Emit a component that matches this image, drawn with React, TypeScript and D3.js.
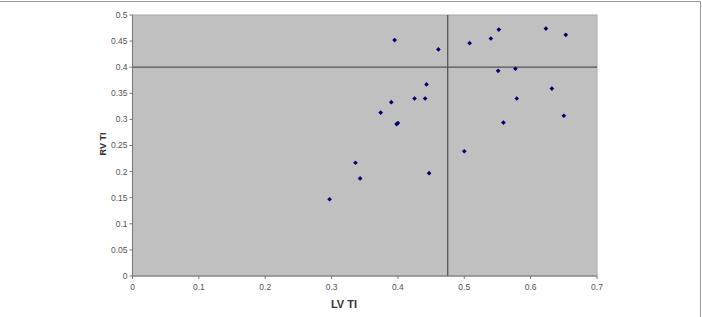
import React from "react";
import * as d3 from "d3";

const lvTI = [0.395, 0.461, 0.508, 0.540, 0.552, 0.551, 0.443, 0.425, 0.441, 0.390, 0.374, 0.398, 0.400, 0.500, 0.623, 0.653, 0.577, 0.632, 0.579, 0.650, 0.559, 0.336, 0.343, 0.447, 0.297];
const rvTI = [0.452, 0.434, 0.446, 0.455, 0.472, 0.393, 0.367, 0.340, 0.340, 0.333, 0.313, 0.291, 0.293, 0.239, 0.474, 0.462, 0.397, 0.359, 0.340, 0.307, 0.294, 0.217, 0.187, 0.197, 0.147];
const xTicks = [0, 0.1, 0.2, 0.3, 0.4, 0.5, 0.6, 0.7];
const yTicks = [0, 0.05, 0.1, 0.15, 0.2, 0.25, 0.3, 0.35, 0.4, 0.45, 0.5];
const refX = 0.475;
const refY = 0.4;

export default function App() {
  const W = 702, H = 317;
  const L = 132.5, R = 597, T = 15, B = 276;
  const x = d3.scaleLinear().domain([0, 0.7]).range([L, R]);
  const y = d3.scaleLinear().domain([0, 0.5]).range([B, T]);
  const font = "'Liberation Sans', Arial, sans-serif";
  const marker = d3.symbol().type(d3.symbolSquare).size(11)();
  return (
    <svg width={W} height={H} style={{ position: "absolute", left: 0, top: 0 }} fontFamily={font}>
      <rect x={0} y={0} width={W} height={H} fill="#fff" />
      <line x1={0} x2={700.5} y1={1.5} y2={1.5} stroke="#999" strokeWidth={1} />
      <line x1={700.5} x2={700.5} y1={1.5} y2={H} stroke="#999" strokeWidth={1} />
      <rect x={L} y={T} width={R - L} height={B - T} fill="#c0c0c0" stroke="#a8a8a8" strokeWidth={1} />
      <line x1={x(refX)} x2={x(refX)} y1={T} y2={B} stroke="#555" strokeWidth={1.3} />
      <line x1={L} x2={R} y1={y(refY)} y2={y(refY)} stroke="#555" strokeWidth={1.3} />
      <line x1={L} x2={L} y1={T} y2={B} stroke="#777" strokeWidth={1} />
      <line x1={L} x2={R} y1={B} y2={B} stroke="#777" strokeWidth={1} />
      {yTicks.map((t) => (
        <g key={"y" + t}>
          <line x1={L - 3} x2={L} y1={y(t)} y2={y(t)} stroke="#777" />
          <text x={L - 5} y={y(t)} dy="0.35em" textAnchor="end" fontSize={8.5} fill="#555">
            {String(t)}
          </text>
        </g>
      ))}
      {xTicks.map((t) => (
        <g key={"x" + t}>
          <line x1={x(t)} x2={x(t)} y1={B} y2={B + 3} stroke="#777" />
          <text x={x(t)} y={B + 14} textAnchor="middle" fontSize={8.5} fill="#555">
            {String(t)}
          </text>
        </g>
      ))}
      {lvTI.map((v, i) => (
        <path key={i} d={marker} transform={`translate(${x(v)},${y(rvTI[i])}) rotate(45)`} fill="#000070" />
      ))}
      <text x={344} y={308} textAnchor="middle" fontSize={11} fontWeight="bold" fill="#333">
        LV TI
      </text>
      <text transform={`translate(106,144) rotate(-90)`} textAnchor="middle" fontSize={9} fontWeight="bold" fill="#333">
        RV TI
      </text>
    </svg>
  );
}
